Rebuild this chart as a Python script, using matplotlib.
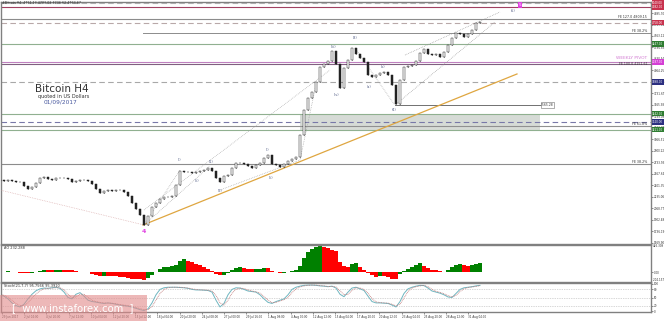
import numpy as np
import matplotlib.pyplot as plt
import matplotlib.transforms as mtransforms
from matplotlib.patches import Rectangle

W, H = 665, 321

# H4 closes, one sample per candle slot
close = [2481, 2466, 2481, 2466, 2452, 2452, 2394, 2351, 2380, 2437,
         2510, 2524, 2495, 2481, 2510, 2510, 2510, 2495, 2452, 2466,
         2481, 2481, 2466, 2423, 2351, 2293, 2322, 2336, 2322, 2336,
         2336, 2307, 2250, 2148, 2061, 1975, 1830, 1960, 2090, 2148,
         2206, 2235, 2235, 2250, 2409, 2611, 2597, 2597, 2582, 2597,
         2611, 2625, 2654, 2611, 2510, 2452, 2539, 2553, 2654, 2727,
         2727, 2712, 2683, 2654, 2698, 2727, 2799, 2842, 2712, 2698,
         2669, 2712, 2756, 2784, 2813, 3132, 3493, 3667, 3753, 3898,
         4115, 4158, 4202, 4346, 4158, 3811, 4100, 4216, 4390, 4303,
         4245, 4187, 4000, 3970, 4000, 4028, 4043, 4000, 3855, 3580,
         3927, 4115, 4129, 4144, 4202, 4317, 4375, 4303, 4288, 4303,
         4259, 4332, 4433, 4534, 4606, 4592, 4549, 4592, 4650, 4751, 4766]
first_open = 2470

ao = [8, 8, 9, 6, 3, -8, -19, -22, -16, 5,
      24, 32, 28, 25, 32, 35, 32, 28, 25, 16,
      5, 0, -5, -24, -47, -63, -57, -60, -66, -71,
      -79, -87, -95, -104, -114, -117, -126, -95, -47, 8,
      55, 79, 87, 95, 111, 174, 201, 182, 158, 134,
      111, 87, 55, 16, -24, -47, -40, -8, 40, 71,
      74, 63, 55, 47, 47, 55, 71, 66, 24, 0,
      -13, -13, 8, 24, 40, 95, 221, 316, 371, 403,
      411, 403, 379, 356, 332, 158, 95, 87, 126, 137,
      79, 32, -16, -55, -74, -63, -71, -87, -111, -115,
      -32, 24, 43, 79, 119, 137, 103, 71, 40, 32,
      16, 5, 40, 79, 111, 126, 111, 95, 119, 134, 137]

stoch_main = [59, 55, 45, 30, 20, 15, 25, 45, 62, 75,
              82, 85, 84, 86, 88, 84, 70, 50, 45, 62,
              68, 55, 40, 35, 33, 30, 28, 30, 28, 25,
              22, 20, 18, 14, 10, 5, 2, 8, 30, 60,
              80, 86, 88, 88, 88, 87, 86, 84, 80, 78,
              78, 77, 76, 70, 40, 15, 28, 60, 80, 86,
              85, 80, 74, 72, 70, 60, 45, 32, 28, 35,
              40, 45, 60, 80, 88, 92, 95, 96, 96, 95,
              93, 92, 90, 92, 85, 62, 53, 70, 85, 88,
              82, 76, 55, 35, 30, 30, 29, 28, 22, 15,
              35, 65, 82, 88, 92, 95, 94, 85, 74, 70,
              66, 60, 52, 50, 65, 80, 86, 88, 90, 93, 95]

stoch_signal = [62, 58, 52, 40, 28, 20, 20, 30, 48, 63,
                75, 82, 84, 85, 86, 86, 78, 62, 50, 52,
                62, 62, 50, 40, 35, 32, 30, 29, 29, 27,
                24, 22, 20, 17, 13, 9, 5, 5, 16, 40,
                65, 80, 86, 88, 88, 88, 87, 85, 82, 80,
                78, 78, 77, 74, 58, 30, 22, 40, 66, 80,
                85, 83, 78, 74, 71, 66, 54, 40, 31, 32,
                37, 42, 50, 68, 82, 89, 93, 95, 96, 96,
                94, 93, 91, 91, 89, 75, 60, 62, 76, 86,
                85, 80, 66, 46, 34, 31, 30, 29, 25, 19,
                25, 48, 72, 85, 90, 93, 95, 90, 80, 73,
                69, 64, 57, 52, 58, 72, 82, 87, 89, 91, 94]

date_labels = ["29 Jun 2017", "2 Jul 04:00", "4 Jul 20:00", "7 Jul 12:00",
               "10 Jul 04:00", "12 Jul 20:00", "15 Jul 12:00", "18 Jul 04:00",
               "20 Jul 20:00", "24 Jul 08:00", "27 Jul 00:00", "29 Jul 16:00",
               "1 Aug 08:00", "4 Aug 00:00", "12 Aug 12:00", "15 Aug 04:00",
               "17 Aug 20:00", "20 Aug 12:00", "23 Aug 04:00", "25 Aug 20:00",
               "28 Aug 12:00", "31 Aug 04:00"]

# horizontal levels: price, colour, style
levels = [(5040, '#b8b8b8', '--'), (4982, '#a04060', '-'), (4809, '#8c8c8c', '-'),
          (4758, '#b8a8a8', '--'), (4447, '#90b090', '-'), (4187, '#c080c0', '-'),
          (4151, '#806080', '-'), (3898, '#a8a8a8', '--'), (3442, '#90b090', '-'),
          (3320, '#7878a8', '--'), (3262, '#909090', '-'), (3211, '#90b090', '-'),
          (2712, '#8c8c8c', '-')]
box_levels = [5040, 4982, 4758, 4447, 4187, 3898, 3442, 3320, 3211]
box_colors = ['#c8324e', '#c8324e', '#c8324e', '#2f7d32', '#d43fd4',
              '#2c2f80', '#2f7d32', '#2c2f80', '#2f7d32']
fe_labels = [("FE 127.0 4809.15", 4838), ("FE 38.2%", 4635), ("FE 100.0 4151.61", 4165),
             ("FE 61.8%", 3291), ("FE 38.2%", 2741)]

# wave counts: text, candle slot, price
waves = [("(i)", 45, 2770), ("(ii)", 49.25, 2466), ("(1)", 52.75, 2741),
         ("(2)", 55, 2322), ("(i)", 67, 2915), ("(ii)", 67.75, 2510),
         ("(iii)", 83.5, 4404), ("(iv)", 84.25, 3710), ("(3)", 88.75, 4534),
         ("(a)", 92.25, 3826), ("(b)", 95.75, 4115), ("(4)", 98.5, 3493),
         ("(5)", 128.25, 4925)]

trend = ([35.75, 129.25], [1830, 4014])
dotted_lines = [([0, 36], [2336, 1830], '#d8a8a8'),
                ([36, 45], [1830, 2625], '#a0a0a0'),
                ([36, 52.5], [1830, 2683], '#a0a0a0'),
                ([36, 82.5], [2047, 4071], '#a0a0a0'),
                ([55, 75, 79], [2336, 2770, 3855], '#a0a0a0'),
                ([88.75, 98.5], [4390, 3580], '#a0a0a0'),
                ([98.75, 123.75], [3565, 4766], '#909090'),
                ([101.25, 125], [4288, 4910], '#909090')]


def fig_axes(fig, x0, y0, x1, y1):
    return fig.add_axes([x0 / W, 1 - y1 / H, (x1 - x0) / W, (y1 - y0) / H])


def style_panel(ax):
    for s in ax.spines.values():
        s.set_color('#808080')
        s.set_linewidth(1.0)
    ax.yaxis.tick_right()
    ax.tick_params(axis='y', labelsize=2.0, length=1.2, width=0.4, pad=0.6,
                   colors='#333333')
    ax.set_xlim(0.25, 162.75)


fig = plt.figure(figsize=(W / 100, H / 100), dpi=100)
fig.patch.set_facecolor('white')

ax = fig_axes(fig, 1, 1.5, 651, 243.5)
ax_ao = fig_axes(fig, 1, 244.5, 651, 282)
ax_st = fig_axes(fig, 1, 283, 651, 312)
for a in (ax, ax_ao, ax_st):
    style_panel(a)

# ---- main price panel
ax.set_ylim(1562.6, 5062.0)
x = np.arange(len(close))
c = np.array(close, dtype=float)
o = np.concatenate([[first_open], c[:-1]])
up = c >= o
lo = np.minimum(o, c)
hi = np.maximum(o, c)
ax.vlines(x, lo, hi, color='#222222', lw=0.6, zorder=4)
body = np.maximum(hi - lo, 4)
ax.bar(x[up], body[up], bottom=lo[up], width=0.45,
       color='white', edgecolor='#222222', linewidth=0.35, zorder=5)
ax.bar(x[~up], body[~up], bottom=lo[~up], width=0.45,
       color='#222222', edgecolor='#222222', linewidth=0.35, zorder=5)

ax.add_patch(Rectangle((75, 3211), 60, 3442 - 3211, facecolor='#d6dbd6',
                       edgecolor='none', zorder=1))
for price, col, ls in levels:
    line = ax.axhline(price, color=col, lw=0.8, ls=ls, zorder=2)
    if ls == '--':
        line.set_dashes((5, 3))
ax.plot([35.75, 162.75], [4606, 4606], color='#8c8c8c', lw=0.7, zorder=2)
ax.plot([98.75, 135], [3565, 3565], color='#707070', lw=0.7, zorder=2)
ax.text(135.3, 3565, "3565.28", fontsize=2.2, color='#333333', va='center',
        ha='left', bbox=dict(boxstyle='square,pad=0.2', fc='white', ec='#707070', lw=0.4),
        zorder=6)

ax.plot(trend[0], trend[1], color='#dfa640', lw=0.9, zorder=3)
for xs, ys, col in dotted_lines:
    ax.plot(xs, ys, color=col, lw=0.5, ls=(0, (1, 1.5)), zorder=3)

for txt, xi, p in waves:
    ax.text(xi, p, txt, fontsize=2.4, color='#4a5580', ha='center', va='center', zorder=6)

ax.text(36, 1729, "4", fontsize=4.5, color='#e040e0', fontweight='bold',
        ha='center', va='center', zorder=6)
ax.text(130, 5011, "5", fontsize=3, color='white', ha='center', va='center',
        bbox=dict(boxstyle='square,pad=0.25', fc='#e040e0', ec='none'), zorder=6)

for txt, p in fe_labels:
    ax.text(161.8, p, txt, fontsize=2.3, color='#333333', ha='right', va='center', zorder=6)
ax.text(161.8, 4245, "WEEKLY PIVOT", fontsize=3.2, color='#d27ad2', ha='right',
        va='center', zorder=6)

ticks = np.arange(4895.70, 1560, -166.29)
ax.set_yticks(ticks)
ax.set_yticklabels([f"{t:.2f}" for t in ticks])
ax.set_xticks([])

trans = mtransforms.blended_transform_factory(ax.transAxes, ax.transData)
for p, col in zip(box_levels, box_colors):
    ax.text(1.002, p, f"{p:.2f}", transform=trans, fontsize=2.0, color='white',
            ha='left', va='center', clip_on=False, zorder=10,
            bbox=dict(boxstyle='square,pad=0.2', fc=col, ec='none'))

# ---- Awesome Oscillator
ax_ao.set_ylim(-160, 440)
aov = np.array(ao, dtype=float)
rising = np.concatenate([[True], aov[1:] >= aov[:-1]])
ax_ao.bar(x, aov, width=1.0, color=np.where(rising, '#008000', '#ff0000'),
          linewidth=0)
ax_ao.set_yticks([0])
ax_ao.set_yticklabels(["0.00"])
ax_ao.set_xticks([])
ax_ao.text(1.003, 0.96, "426.309", transform=ax_ao.transAxes, fontsize=2.0,
           color='#333333', va='center', ha='left', clip_on=False)
ax_ao.text(1.003, 0.05, "-204.157", transform=ax_ao.transAxes, fontsize=2.0,
           color='#333333', va='center', ha='left', clip_on=False)
ax_ao.text(0.004, 0.9, "AO 232.288", transform=ax_ao.transAxes, fontsize=2.5,
           color='#333333', va='center', ha='left')

# ---- Stochastic
ax_st.set_ylim(-3.7, 103.7)
for lv in (20, 50, 80):
    ax_st.axhline(lv, color='#b0b0b0', lw=0.5, ls=(0, (1, 1.5)))
ax_st.plot(x, stoch_main, color='#6fb6c0', lw=0.7)
ax_st.plot(x, stoch_signal, color='#c07878', lw=0.6, ls=(0, (1, 1)))
ax_st.set_yticks([0, 20, 50, 80, 100])
ax_st.set_yticklabels(["0", "20", "50", "80", "100"])
ax_st.text(0.004, 0.88, "Stoch(21,7,7) 95.7566 95.3910", transform=ax_st.transAxes,
           fontsize=2.5, color='#333333', va='center', ha='left')
tick_pos = (2 + 22.2 * np.arange(len(date_labels))) / 4
ax_st.set_xticks(tick_pos)
ax_st.set_xticklabels(date_labels, ha='left')
ax_st.tick_params(axis='x', labelsize=2.0, length=1.2, width=0.4, pad=1.0,
                  colors='#333333')

# ---- headings
def ftxt(px, py, s, **kw):
    fig.text(px / W, 1 - py / H, s, **kw)


ftxt(2, 3.5, "#Bitcoin,H4  4751.14 4783.03 4736.62 4763.67", fontsize=2.3,
     color='#333333', va='center', ha='left')
ftxt(61.5, 89.5, "Bitcoin H4", fontsize=7.5, color='#333333', ha='center', va='center')
ftxt(64, 96.3, "quoted in US Dollars", fontsize=3.6, color='#333333',
     ha='center', va='center')
ftxt(61, 102.3, "01/09/2017", fontsize=4.2, color='#4a5aa0', ha='center', va='center')

# ---- watermark
fig.patches.append(Rectangle((0, 0), 147 / W, 26 / H, transform=fig.transFigure,
                             facecolor='#e28a8a', alpha=0.6, edgecolor='none',
                             zorder=20))
ftxt(73, 308, "[  www.instaforex.com  ]", fontsize=7.2, color='white',
     ha='center', va='center', zorder=21)

fig.savefig("out.png", dpi=100)
plt.close(fig)
